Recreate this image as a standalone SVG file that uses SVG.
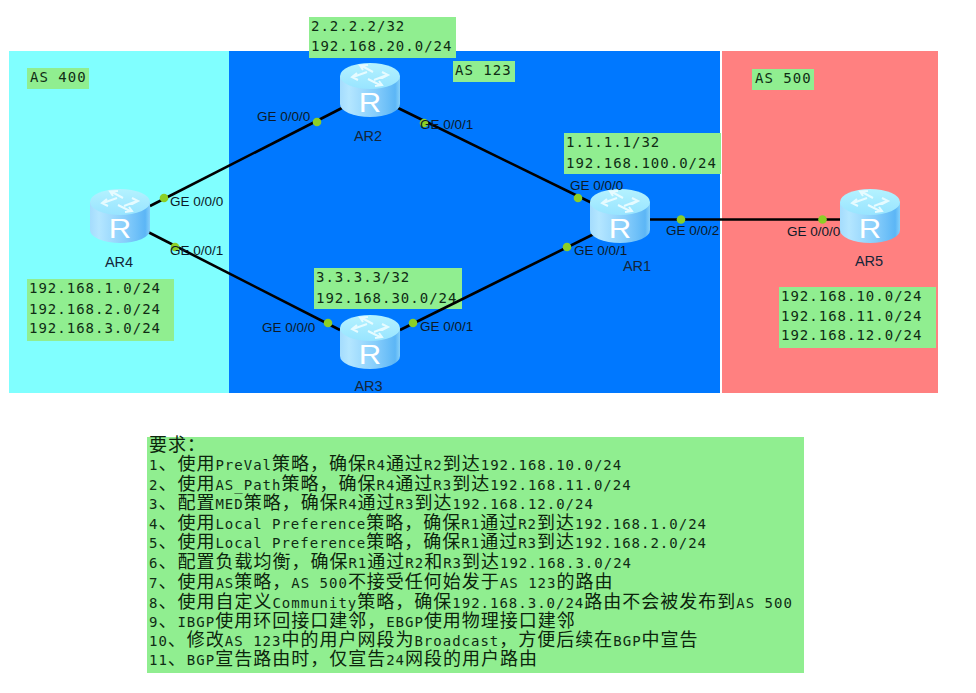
<svg xmlns="http://www.w3.org/2000/svg" width="976" height="693" viewBox="0 0 976 693">
<style>
text{font-family:"Liberation Sans",Arial,sans-serif}
.lab{font-size:13.500px;fill:#0c1a28}
.name{font-size:14.500px;fill:#14263a}
.m{font-family:"DejaVu Sans Mono","Noto Sans CJK SC",monospace;font-size:14px;letter-spacing:1px;fill:#0f2c14}
.c{font-family:"Noto Sans CJK SC",sans-serif;font-size:18px;letter-spacing:1px;fill:#0c240c}
.box{fill:#90ee90}
.dot{fill:#8ccf26}
.link{stroke:#000;stroke-width:2.600;fill:none}
.arrow{stroke:#e6fbff;stroke-width:2;fill:none}
</style>
<defs>
<linearGradient id="body" x1="0" x2="1" y1="0" y2="0">
<stop offset="0" stop-color="#a4dcfd"/><stop offset="0.15" stop-color="#b4e6ff"/><stop offset="0.6" stop-color="#86cdfb"/><stop offset="0.92" stop-color="#5cb6f6"/><stop offset="1" stop-color="#86d0fa"/>
</linearGradient>
<linearGradient id="top" x1="0" x2="0" y1="0" y2="1">
<stop offset="0" stop-color="#b4f2ff"/><stop offset="1" stop-color="#98e4ff"/>
</linearGradient>
<g id="router">
<path d="M-30 -14V14A30 13 0 0 0 30 14V-14Z" fill="url(#body)"/>
<ellipse cx="0" cy="-14" rx="30" ry="13" fill="url(#top)"/>
<path class="arrow" d="M-8 -24L3 -18M-2 -25L-10 -24.500L-7 -20M10 -5L-2 -11M5 -4L12 -5L9 -9M-17 -13L-3 -18M-13 -17L-18 -13L-12 -10M17 -15L4 -10M12 -18L18 -15L12 -12"/>
<text x="0" y="0" transform="translate(0,22) scale(1.150,1)" text-anchor="middle" font-size="27" fill="#fff">R</text>
</g>
</defs>
<rect width="976" height="693" fill="#fff"/>
<g id="as400"><rect x="9" y="51" width="220" height="342" fill="#80ffff"/>
<rect x="27" y="68" width="62" height="21" class="box"/><text class="m" x="30" y="82">AS 400</text></g>
<g id="as123"><rect x="229" y="51" width="491" height="342" fill="#0078ff"/></g>
<g id="as500"><rect x="722" y="51" width="216" height="342" fill="#ff8080"/>
<rect x="752" y="69" width="62" height="21" class="box"/><text class="m" x="755" y="83">AS 500</text></g>
<g id="note-ar3"><rect x="314" y="268" width="148" height="41" class="box"/><text class="m" x="316" y="282">3.3.3.3/32</text><text class="m" x="316" y="303">192.168.30.0/24</text></g>
<g id="connectors">
<path class="link" d="M150 206L342 108"/>
<path class="link" d="M148 232L340 330"/>
<path class="link" d="M398 108L592 203"/>
<path class="link" d="M400 330L594 234"/>
<path class="link" d="M650 219.500L842 219.500"/>
</g>
<g id="AR2"><use href="#router" x="370" y="90"/><text class="name" x="368" y="141" text-anchor="middle">AR2</text>
<circle class="dot" cx="317" cy="122" r="4.300"/><circle class="dot" cx="424" cy="123" r="4.300"/>
<text class="lab" x="257" y="121">GE 0/0/0</text><text class="lab" x="420" y="129">GE 0/0/1</text></g>
<g id="AR4"><use href="#router" x="120" y="216"/><text class="name" x="119" y="267" text-anchor="middle">AR4</text>
<circle class="dot" cx="164" cy="198" r="4.300"/><circle class="dot" cx="175" cy="247" r="4.300"/>
<text class="lab" x="170" y="206">GE 0/0/0</text><text class="lab" x="170" y="255">GE 0/0/1</text></g>
<g id="AR3"><use href="#router" x="370" y="342"/><text class="name" x="368.500" y="391" text-anchor="middle">AR3</text>
<circle class="dot" cx="328" cy="323" r="4.300"/><circle class="dot" cx="413" cy="323" r="4.300"/>
<text class="lab" x="262" y="332">GE 0/0/0</text><text class="lab" x="420" y="331">GE 0/0/1</text></g>
<g id="AR1"><use href="#router" x="620" y="216"/><text class="name" x="637" y="271" text-anchor="middle">AR1</text>
<circle class="dot" cx="578" cy="198" r="4.300"/><circle class="dot" cx="567" cy="247" r="4.300"/><circle class="dot" cx="681" cy="219.500" r="4.300"/>
<text class="lab" x="570" y="190">GE 0/0/0</text><text class="lab" x="574" y="255">GE 0/0/1</text><text class="lab" x="666" y="235">GE 0/0/2</text></g>
<g id="AR5"><use href="#router" x="870" y="216"/><text class="name" x="869" y="266" text-anchor="middle">AR5</text>
<circle class="dot" cx="822.500" cy="219.500" r="4.300"/>
<text class="lab" x="787" y="236">GE 0/0/0</text></g>
<g id="note-ar2"><rect x="309" y="17" width="147" height="41" class="box"/><text class="m" x="311" y="31">2.2.2.2/32</text><text class="m" x="311" y="51">192.168.20.0/24</text></g>
<g id="note-as123"><rect x="453" y="61" width="62" height="21" class="box"/><text class="m" x="455" y="75">AS 123</text></g>
<g id="note-ar1"><rect x="564" y="133" width="157" height="41" class="box"/><text class="m" x="566" y="147">1.1.1.1/32</text><text class="m" x="566" y="168">192.168.100.0/24</text></g>
<g id="note-ar4"><rect x="27" y="279" width="147" height="62" class="box"/><text class="m" x="29" y="293">192.168.1.0/24</text><text class="m" x="29" y="314">192.168.2.0/24</text><text class="m" x="29" y="333">192.168.3.0/24</text></g>
<g id="note-ar5"><rect x="779" y="287" width="157" height="61" class="box"/><text class="m" x="781" y="301">192.168.10.0/24</text><text class="m" x="781" y="321">192.168.11.0/24</text><text class="m" x="781" y="340">192.168.12.0/24</text></g>
<g id="requirements"><rect x="147" y="437" width="657" height="236" class="box"/>
<text x="149" y="451" class="c">要求：</text>
<text x="149" y="470" class="c"><tspan class="m">1</tspan>、使用<tspan class="m">PreVal</tspan>策略，确保<tspan class="m">R4</tspan>通过<tspan class="m">R2</tspan>到达<tspan class="m">192.168.10.0/24</tspan></text>
<text x="149" y="490" class="c"><tspan class="m">2</tspan>、使用<tspan class="m">AS_Path</tspan>策略，确保<tspan class="m">R4</tspan>通过<tspan class="m">R3</tspan>到达<tspan class="m">192.168.11.0/24</tspan></text>
<text x="149" y="509" class="c"><tspan class="m">3</tspan>、配置<tspan class="m">MED</tspan>策略，确保<tspan class="m">R4</tspan>通过<tspan class="m">R3</tspan>到达<tspan class="m">192.168.12.0/24</tspan></text>
<text x="149" y="529" class="c"><tspan class="m">4</tspan>、使用<tspan class="m">Local Preference</tspan>策略，确保<tspan class="m">R1</tspan>通过<tspan class="m">R2</tspan>到达<tspan class="m">192.168.1.0/24</tspan></text>
<text x="149" y="548" class="c"><tspan class="m">5</tspan>、使用<tspan class="m">Local Preference</tspan>策略，确保<tspan class="m">R1</tspan>通过<tspan class="m">R3</tspan>到达<tspan class="m">192.168.2.0/24</tspan></text>
<text x="149" y="568" class="c"><tspan class="m">6</tspan>、配置负载均衡，确保<tspan class="m">R1</tspan>通过<tspan class="m">R2</tspan>和<tspan class="m">R3</tspan>到达<tspan class="m">192.168.3.0/24</tspan></text>
<text x="149" y="588" class="c"><tspan class="m">7</tspan>、使用<tspan class="m">AS</tspan>策略，<tspan class="m">AS 500</tspan>不接受任何始发于<tspan class="m">AS 123</tspan>的路由</text>
<text x="149" y="608" class="c"><tspan class="m">8</tspan>、使用自定义<tspan class="m">Community</tspan>策略，确保<tspan class="m">192.168.3.0/24</tspan>路由不会被发布到<tspan class="m">AS 500</tspan></text>
<text x="149" y="627" class="c"><tspan class="m">9</tspan>、<tspan class="m">IBGP</tspan>使用环回接口建邻，<tspan class="m">EBGP</tspan>使用物理接口建邻</text>
<text x="149" y="646" class="c"><tspan class="m">10</tspan>、修改<tspan class="m">AS 123</tspan>中的用户网段为<tspan class="m">Broadcast</tspan>，方便后续在<tspan class="m">BGP</tspan>中宣告</text>
<text x="149" y="665" class="c"><tspan class="m">11</tspan>、<tspan class="m">BGP</tspan>宣告路由时，仅宣告<tspan class="m">24</tspan>网段的用户路由</text>
</g>
</svg>
